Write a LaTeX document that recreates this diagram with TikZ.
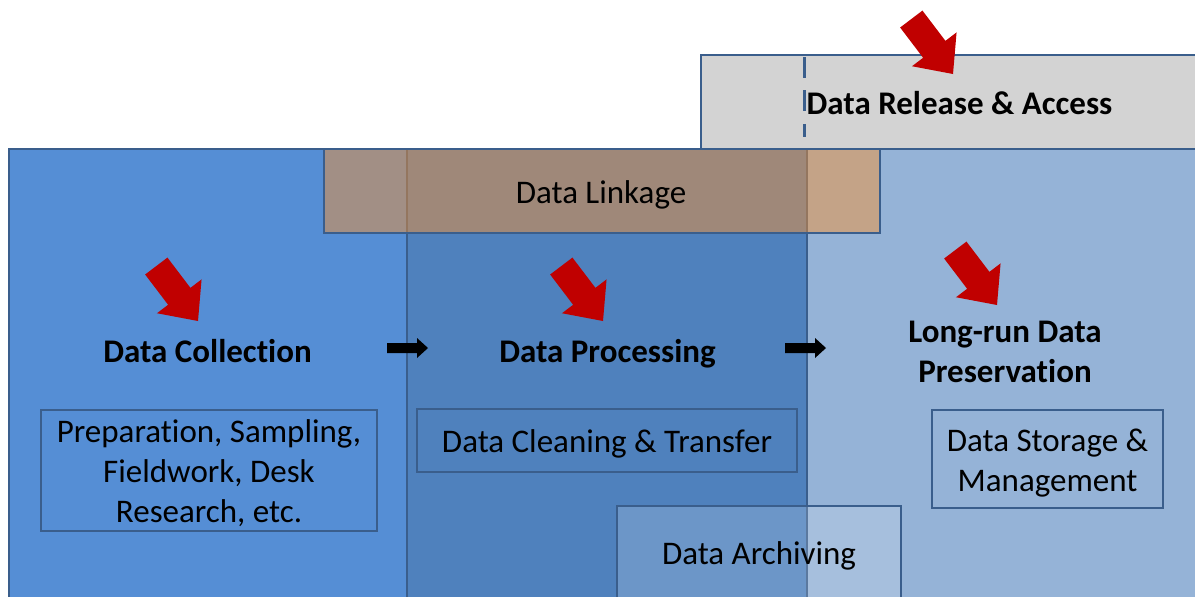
\documentclass[tikz,border=0pt]{standalone}
\usepackage{fontspec}
\setmainfont{Carlito}[Ligatures=NoCommon]
\definecolor{collblue}{RGB}{85,142,213}
\definecolor{procblue}{RGB}{79,129,189}
\definecolor{presblue}{RGB}{149,179,215}
\definecolor{releasegray}{RGB}{211,211,211}
\definecolor{edgeblue}{RGB}{58,94,140}
\definecolor{linkorange}{RGB}{250,145,45}
\definecolor{arrowred}{RGB}{192,0,0}
\begin{document}
\begin{tikzpicture}[x=0.02cm,y=-0.02cm,
  txt/.style={font=\fontsize{18.78pt}{22.76pt}\selectfont, inner sep=0pt, text=black},
  title/.style={txt, font=\fontsize{18.78pt}{22.76pt}\selectfont\bfseries},
  frame/.style={draw=edgeblue, line width=1.6pt},
  subbox/.style={draw=edgeblue, line width=1.4pt, inner sep=0pt},
  subtext/.style={txt, align=center, yshift=-0.06cm},
  redarrow/.pic={\fill[arrowred] (-69,14) -- (-31,14) -- (-31,28) -- (0,0)
                  -- (-31,-28) -- (-31,-14) -- (-69,-14) -- cycle;},
  flowarrow/.pic={\fill[black] (0,-5) -- (30,-5) -- (30,-10) -- (41,0)
                  -- (30,10) -- (30,5) -- (0,5) -- cycle;}
]
\useasboundingbox (0,0) rectangle (1195,596);
\clip (0,0) rectangle (1195,596);

% release & access band
\draw[frame, fill=releasegray] (701,55) rectangle (1230,149);
\draw[edgeblue, line width=1.7pt, dash pattern=on 12 off 7] (804,57) -- (804,137);

% the three stages
\draw[frame, fill=collblue] (9,149) rectangle (407,640);
\draw[frame, fill=procblue] (407,149) rectangle (807,640);
\draw[frame, fill=presblue] (807,149) rectangle (1230,640);

% data linkage overlay
\draw[frame, fill=linkorange, fill opacity=0.47] (324,149) rectangle (880,233);

% data archiving overlay
\draw[frame, fill=white, fill opacity=0.17] (617,506) rectangle (901,640);

% activity boxes
\node[subbox, minimum width=6.72cm, minimum height=2.42cm] (collbox) at (209,470.5) {};
\node[subtext] (colltext) at (collbox.center)
  {Preparation, Sampling,\\Fieldwork, Desk\\Research, etc.};
\node[subbox, minimum width=7.6cm, minimum height=1.26cm] (procbox) at (607,440.5) {};
\node[subtext] (proctext) at (procbox.center) {Data Cleaning \& Transfer};
\node[subbox, minimum width=4.62cm, minimum height=1.96cm] (presbox) at (1047.5,459) {};
\node[subtext, yshift=-0.02cm] (prestext) at (presbox.center) {Data Storage \&\\Management};

% stage titles
\node[title, anchor=base] (tcoll) at (207.5,362.5) {Data Collection};
\node[title, anchor=base] (tproc) at (607.5,362.5) {Data Processing};
\node[title, align=center] (tpres) at (1005,351.5) {Long-run Data\\Preservation};
\node[title, anchor=base] (trel) at (959.5,114) {Data Release \& Access};
\node[txt, anchor=base] (tlink) at (601,203) {Data Linkage};
\node[txt, anchor=base] (tarch) at (759,564.5) {Data Archiving};

% red pointers
\pic[rotate=-52.8] at (198,321) {redarrow};
\pic[rotate=-52.8] at (603,321) {redarrow};
\pic[rotate=-52.8] at (997,305) {redarrow};
\pic[rotate=-52.8] at (953,74) {redarrow};

% flow between stages
\pic at (387,348) {flowarrow};
\pic at (785,348) {flowarrow};
\end{tikzpicture}
\end{document}
